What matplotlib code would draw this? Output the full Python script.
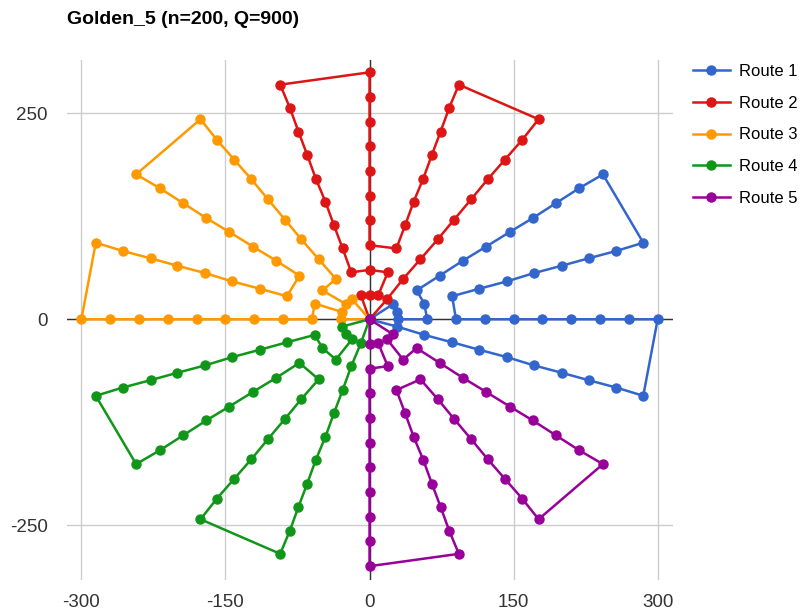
import matplotlib
matplotlib.use("Agg")
import matplotlib.pyplot as plt

plt.rcParams['font.family'] = ['Liberation Sans', 'DejaVu Sans']
plt.rcParams['axes.unicode_minus'] = False

title = "Golden_5 (n=200, Q=900)"
route_names = ["Route 1", "Route 2", "Route 3", "Route 4", "Route 5"]
route_colors = ["#3366cc", "#dd1515", "#ff9900", "#109618", "#990099"]

# route coordinates (depot at 0,0)
r1_x = [0, 29, 57, 86, 114, 143, 171, 200, 228, 257, 285, 300, 270, 240, 210, 180, 150, 120, 90,
        86, 114, 143, 171, 200, 228, 257, 285, 243, 218, 194, 170, 146, 121, 97, 73, 49, 57, 60, 30, 29, 24, 0]
r1_y = [0, -9, -19, -28, -37, -46, -56, -65, -74, -83, -93, 0, 0, 0, 0, 0, 0, 0, 0,
        28, 37, 46, 56, 65, 74, 83, 93, 176, 159, 141, 123, 106, 88, 71, 53, 35, 19, 0, 0, 9, 18, 0]

r2_x = [0, 18, 35, 53, 71, 88, 106, 123, 141, 159, 176, 93, 83, 74, 65, 56, 46, 37, 28,
        0, 0, 0, 0, 0, 0, 0, 0, -93, -83, -74, -65, -56, -46, -37, -28, -19, 0, 19, 9, 0, -9, 0]
r2_y = [0, 24, 49, 73, 97, 121, 146, 170, 194, 218, 243, 285, 257, 228, 200, 171, 143, 114, 86,
        90, 120, 150, 180, 210, 240, 270, 300, 285, 257, 228, 200, 171, 143, 114, 86, 57, 60, 57, 29, 30, 29, 0]

r3_x = [0, -30, -29, -57, -60, -90, -120, -150, -180, -210, -240, -270, -300,
        -285, -257, -228, -200, -171, -143, -114, -86, -73, -97, -121, -146, -170, -194, -218, -243,
        -176, -159, -141, -123, -106, -88, -71, -53, -35, -49, -24, -18, 0]
r3_y = [0, 0, 9, 19, 0, 0, 0, 0, 0, 0, 0, 0, 0,
        93, 83, 74, 65, 56, 46, 37, 28, 53, 71, 88, 106, 123, 141, 159, 176,
        243, 218, 194, 170, 146, 121, 97, 73, 49, 35, 18, 24, 0]

r4_x = [0, -9, -19, -28, -37, -46, -56, -65, -74, -83, -93, -176, -159, -141, -123, -106, -88, -71, -53,
        -73, -97, -121, -146, -170, -194, -218, -243, -285, -257, -228, -200, -171, -143, -114, -86, -57,
        -49, -35, -18, -24, -29, 0]
r4_y = [0, -29, -57, -86, -114, -143, -171, -200, -228, -257, -285, -243, -218, -194, -170, -146, -121, -97, -73,
        -53, -71, -88, -106, -123, -141, -159, -176, -93, -83, -74, -65, -56, -46, -37, -28, -19,
        -35, -49, -24, -18, -9, 0]

r5_x = [0, 0, 9, 19, 0, 0, 0, 0, 0, 0, 0, 0, 0,
        93, 83, 74, 65, 56, 46, 37, 28, 53, 71, 88, 106, 123, 141, 159, 176,
        243, 218, 194, 170, 146, 121, 97, 73, 49, 35, 18, 24, 0]
r5_y = [0, -30, -29, -57, -60, -90, -120, -150, -180, -210, -240, -270, -300,
        -285, -257, -228, -200, -171, -143, -114, -86, -73, -97, -121, -146, -170, -194, -218, -243,
        -176, -159, -141, -123, -106, -88, -71, -53, -35, -49, -24, -18, 0]

x_ticks = [-300, -150, 0, 150, 300]
y_ticks = [-250, 0, 250]

routes = [(r1_x, r1_y), (r2_x, r2_y), (r3_x, r3_y), (r4_x, r4_y), (r5_x, r5_y)]

fig = plt.figure(figsize=(8.07, 6.12), dpi=100)
ax = fig.add_axes([0.083, 0.052, 0.751, 0.85])

for (xs, ys), name, col in zip(routes, route_names, route_colors):
    ax.plot(xs, ys, color=col, lw=1.8, marker='o', ms=6.5, label=name, zorder=3)

ax.set_xlim(-315, 316)
ax.set_ylim(-317, 315)
ax.set_xticks(x_ticks)
ax.set_yticks(y_ticks)
ax.grid(True, color='#cccccc', lw=1)
ax.axhline(0, color='#333333', lw=1, zorder=2)
ax.axvline(0, color='#333333', lw=1, zorder=2)
for s in ax.spines.values():
    s.set_visible(False)
ax.tick_params(length=0, labelsize=13.5, labelcolor='#333333')
ax.tick_params(axis='y', pad=14)
ax.tick_params(axis='x', pad=10)

fig.text(0.083, 0.968, title, fontsize=14, fontweight='bold', va='center', ha='left', color='#000000')

ax.legend(loc='upper left', bbox_to_anchor=(1.022, 1.005), frameon=False, fontsize=12,
          handlelength=2.2, labelspacing=1.0, handletextpad=0.55, borderaxespad=0.0)

fig.savefig("out.png", dpi=100)
